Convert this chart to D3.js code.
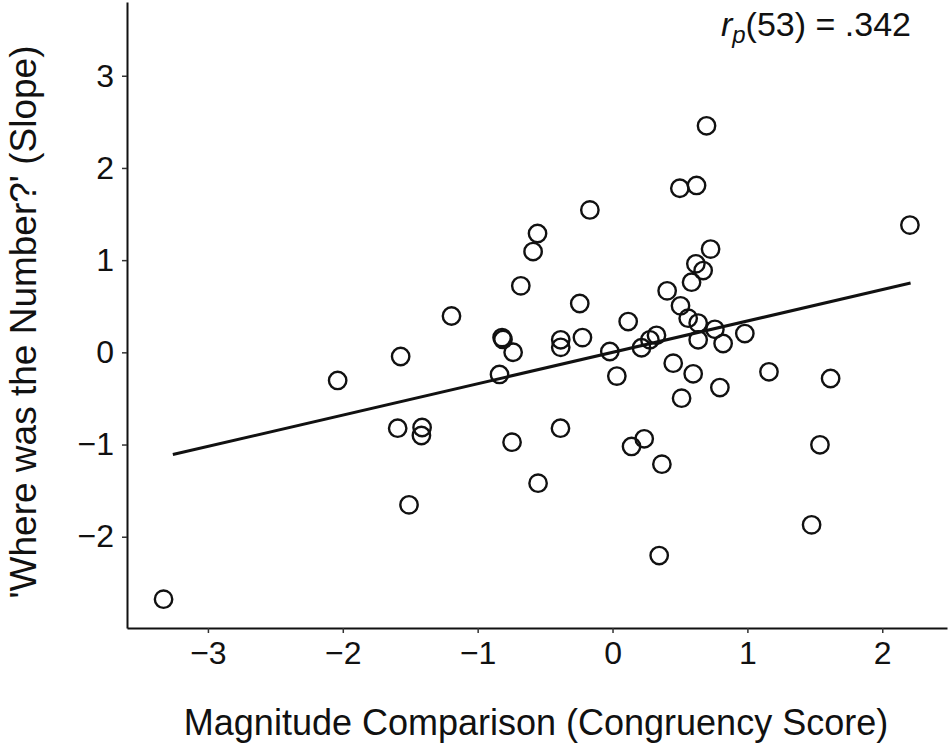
<!DOCTYPE html>
<html>
<head>
<meta charset="utf-8">
<script src="https://cdn.jsdelivr.net/npm/d3@7"></script>
<style>
  body { margin: 0; background: #fff; }
  svg { font-family: "Liberation Sans", Arial, sans-serif; }
</style>
</head>
<body>
<div id="chart"></div>
<script>
// congruency score (x) and slope (y)
var congruency = [0.697, 0.499, 0.623, -0.168, -0.556, -0.589, 2.205, 0.727, 0.618, 0.672,
  0.586, -0.680, 0.405, -0.243, 0.504, 0.116, 0.561, 0.635, 0.759, 0.981,
  -1.194, -0.819, -0.812, -0.737, -1.571, -2.038, -0.838, -1.593, -1.412, -1.417,
  -0.745, -1.509, -3.329, -0.384, -0.384, -0.223, -0.020, 0.032, 0.215, 0.277,
  0.326, 0.635, 0.820, 0.450, 0.598, 0.512, 0.796, 1.160, 1.617, -0.386,
  -0.552, 0.141, 0.235, 0.366, 1.538, 1.476, 0.346];
var slope = [2.457, 1.780, 1.810, 1.545, 1.289, 1.093, 1.380, 1.120, 0.960, 0.887,
  0.761, 0.721, 0.667, 0.530, 0.504, 0.334, 0.371, 0.317, 0.250, 0.204,
  0.394, 0.160, 0.140, 0.001, -0.045, -0.305, -0.240, -0.823, -0.815, -0.902,
  -0.974, -1.654, -2.677, 0.136, 0.054, 0.160, 0.009, -0.258, 0.050, 0.136,
  0.185, 0.136, 0.096, -0.117, -0.233, -0.497, -0.382, -0.211, -0.284, -0.823,
  -1.419, -1.021, -0.938, -1.213, -1.003, -1.871, -2.204];

var xTicks = [-3, -2, -1, 0, 1, 2];
var yTicks = [-2, -1, 0, 1, 2, 3];

// fitted line
var fitSlope = 0.34;
var fitIntercept = 0.0;
var fitRange = [-3.26, 2.21];

var svgWidth = 950;
var svgHeight = 748;

var margin = { top: 2, right: 3, bottom: 120, left: 127 };

var width = svgWidth - margin.left - margin.right;
var height = svgHeight - margin.top - margin.bottom;

var svg = d3.select("#chart")
  .append("svg")
  .attr("width", svgWidth)
  .attr("height", svgHeight);

var chartGroup = svg.append("g")
  .attr("transform", `translate(${margin.left}, ${margin.top})`);

var xScale = d3.scaleLinear()
  .domain([-3.6, 2.48])
  .range([0, width]);

var yScale = d3.scaleLinear()
  .domain([-2.99, 3.8])
  .range([height, 0]);

var bottomAxis = d3.axisBottom(xScale)
  .tickValues(xTicks)
  .tickSizeInner(5)
  .tickSizeOuter(0)
  .tickPadding(8)
  .tickFormat(d => d < 0 ? "\u2212" + Math.abs(d) : d);

var leftAxis = d3.axisLeft(yScale)
  .tickValues(yTicks)
  .tickSizeInner(5)
  .tickSizeOuter(0)
  .tickPadding(8)
  .tickFormat(d => d < 0 ? "\u2212" + Math.abs(d) : d);

var xAxis = chartGroup.append("g")
  .attr("transform", `translate(0, ${height})`)
  .call(bottomAxis);

var yAxis = chartGroup.append("g")
  .call(leftAxis);

[xAxis, yAxis].forEach(function(ax) {
  ax.select(".domain").attr("stroke", "#111").attr("stroke-width", 2);
  ax.selectAll(".tick line").attr("stroke", "#333").attr("stroke-width", 1.5);
  ax.selectAll(".tick text")
    .attr("fill", "#111")
    .style("font-size", "32px")
    .style("font-family", "'Liberation Sans', Arial, sans-serif");
});

var points = congruency.map((x, i) => ({ x: x, y: slope[i] }));

chartGroup.selectAll("circle")
  .data(points)
  .enter()
  .append("circle")
  .attr("cx", d => xScale(d.x))
  .attr("cy", d => yScale(d.y))
  .attr("r", 8.7)
  .attr("fill", "none")
  .attr("stroke", "#111")
  .attr("stroke-width", 2.4);

var fitLine = d3.line()
  .x(d => xScale(d))
  .y(d => yScale(fitIntercept + fitSlope * d));

chartGroup.append("path")
  .datum(fitRange)
  .attr("d", fitLine)
  .attr("fill", "none")
  .attr("stroke", "#111")
  .attr("stroke-width", 3);

// axis titles
svg.append("text")
  .attr("x", 536)
  .attr("y", 735)
  .attr("text-anchor", "middle")
  .attr("fill", "#111")
  .style("font-size", "36px")
  .text("Magnitude Comparison (Congruency Score)");

svg.append("text")
  .attr("transform", "translate(36, 322) rotate(-90)")
  .attr("text-anchor", "middle")
  .attr("fill", "#111")
  .style("font-size", "37px")
  .text("'Where was the Number?' (Slope)");

// correlation annotation
var note = svg.append("text")
  .attr("x", 911)
  .attr("y", 36)
  .attr("text-anchor", "end")
  .attr("fill", "#111")
  .style("font-size", "34px");
note.append("tspan").style("font-style", "italic").text("r");
note.append("tspan").style("font-style", "italic").style("font-size", "24px")
  .attr("dy", 7).text("p");
note.append("tspan").attr("dy", -7).text("(53) = .342");
</script>
</body>
</html>
